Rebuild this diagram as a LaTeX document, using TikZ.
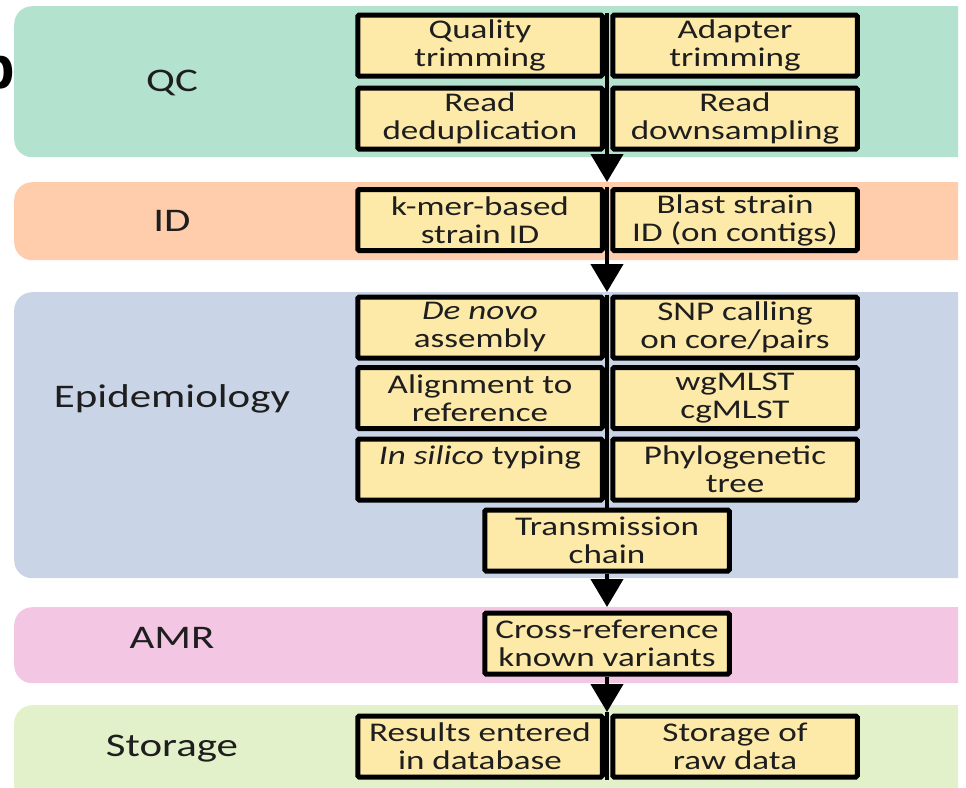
\documentclass[tikz,border=0pt]{standalone}
\usepackage{fontspec}
\setmainfont{Carlito}[FakeStretch=1.3]
\newfontfamily\panelfont{Liberation Sans}
\usetikzlibrary{arrows.meta}

\definecolor{qcc}{HTML}{B3E2CE}
\definecolor{idc}{HTML}{FFCCAC}
\definecolor{epic}{HTML}{C9D5E6}
\definecolor{amrc}{HTML}{F3C6E4}
\definecolor{stoc}{HTML}{E3F1CA}
\definecolor{cellc}{HTML}{FDEAA9}
\definecolor{inkc}{HTML}{1E1E1E}

\tikzset{
  band/.style={fill=#1, draw=none, rounded corners=18pt, minimum width=1000pt,
    anchor=north west, inner sep=0pt},
  bandlabel/.style={text=inkc, anchor=base, inner sep=0pt,
    font=\fontsize{33}{36}\selectfont},
  cell/.style={draw=black, line width=5pt, fill=cellc, rounded corners=1.5pt,
    minimum width=244.5pt, minimum height=61pt, inner sep=0pt, align=center,
    text=inkc, font=\fontsize{27}{28}\selectfont},
  flow/.style={draw=black, line width=4.5pt, -{Triangle[width=32pt,length=28pt]}},
  divider/.style={draw=black, line width=4.5pt}
}

\begin{document}
\begin{tikzpicture}[x=1pt, y=-1pt]
\useasboundingbox (0,0) rectangle (966,787);

% coloured stage bands, cut off on the right
\begin{scope}
  \clip (0,0) rectangle (958,787);
  \node[band=qcc,  minimum height=151pt] (qcband)  at (14,6)   {};
  \node[band=idc,  minimum height=78pt]  (idband)  at (14,182) {};
  \node[band=epic, minimum height=286pt] (epiband) at (14,292) {};
  \node[band=amrc, minimum height=76pt]  (amrband) at (14,607) {};
  \node[band=stoc, minimum height=100pt] (stoband) at (14,705) {};
\end{scope}

% partial panel letter at the left edge
\begin{scope}
  \clip (0,0) rectangle (966,787);
  \node[anchor=base west, inner sep=0pt, font=\panelfont\bfseries\fontsize{60}{60}\selectfont]
    (panel) at (-22,88) {b};
\end{scope}

% stage names
\node[bandlabel] (lqc)  at (172,91)  {QC};
\node[bandlabel] (lid)  at (172,231) {ID};
\node[bandlabel] (lepi) at (172,407) {Epidemiology};
\node[bandlabel] (lamr) at (172,648) {AMR};
\node[bandlabel] (lsto) at (172,756) {Storage};

% flow line anchors on the centre axis
\coordinate (qcTop)  at (607,13);
\coordinate (idTop)  at (607,187);
\coordinate (epiTop) at (607,295);
\coordinate (stoTop) at (607,712);
\coordinate (stoBot) at (607,780);

% flow lines drawn first, boxes sit on top of them
\draw[flow] (qcTop) -- (qcTop |- idband.north);
\draw[flow] (idTop) -- (idTop |- epiband.north);
\draw[divider] (epiTop) -- (607,508);
\draw[divider] (stoTop) -- (stoBot);

% QC
\node[cell] (qtrim) at (480,45.5)  {Quality\\trimming};
\node[cell] (atrim) at (735,45.5)  {Adapter\\trimming};
\node[cell] (rdup)  at (480,118.5) {Read\\deduplication};
\node[cell] (rdown) at (735,118.5) {Read\\downsampling};

% ID
\node[cell] (kmer)  at (480,220) {k-mer-based\\strain ID};
\node[cell] (blast) at (735,220) {Blast strain\\ID (on contigs)};

% Epidemiology
\node[cell] (denovo) at (480,327.5) {\textit{De novo}\\assembly};
\node[cell] (snp)    at (735,327.5) {SNP calling\\on core/pairs};
\node[cell] (align)  at (480,398)   {Alignment to\\reference};
\node[cell] (mlst)   at (735,398)   {wgMLST\\cgMLST};
\node[cell] (silico) at (480,469.5) {\textit{In silico} typing\\\mbox{}};
\node[cell] (phylo)  at (735,469.5) {Phylogenetic\\tree};
\node[cell] (trans)  at (607,540.5) {Transmission\\chain};

% AMR
\node[cell] (xref) at (607,643.5) {Cross-reference\\known variants};

% Storage
\node[cell] (resdb) at (480,746.5) {Results entered\\in database};
\node[cell] (raw)   at (735,746.5) {Storage of\\raw data};

% arrows leaving single boxes
\draw[flow] (trans.south) -- (trans.south |- amrband.north);
\draw[flow] (xref.south) -- (stoTop);
\end{tikzpicture}
\end{document}
